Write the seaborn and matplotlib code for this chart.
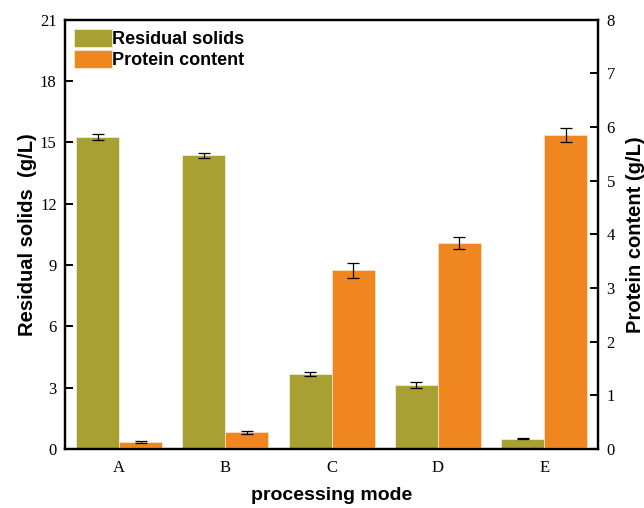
import matplotlib
matplotlib.use("Agg")
import matplotlib.pyplot as plt
import seaborn as sns
import pandas as pd
import numpy as np
from matplotlib.patches import Patch

modes = ["A", "B", "C", "D", "E"]
residual = [15.25, 14.37, 3.68, 3.13, 0.50]
residual_err = [0.15, 0.11, 0.10, 0.13, 0.02]
protein = [0.125, 0.31, 3.33, 3.84, 5.85]
protein_err = [0.02, 0.025, 0.14, 0.115, 0.125]
series = ["Residual solids", "Protein content"]
colors = {"Residual solids": "#A8A032", "Protein content": "#F0861F"}

sns.set_style("ticks")
plt.rcParams["font.family"] = ["Liberation Sans", "DejaVu Sans"]
plt.rcParams["text.color"] = "black"
plt.rcParams["axes.labelcolor"] = "black"
plt.rcParams["xtick.color"] = "black"
plt.rcParams["ytick.color"] = "black"

df_res = pd.DataFrame({"mode": modes, "value": residual, "series": series[0]})
df_pro = pd.DataFrame({"mode": modes, "value": protein, "series": series[1]})

fig = plt.figure(figsize=(6.44, 5.08), dpi=100)
ax = fig.add_axes([0.101, 0.116, 0.828, 0.845])
ax2 = ax.twinx()

sns.barplot(data=df_res, x="mode", y="value", hue="series", hue_order=series,
            palette=colors, order=modes, width=0.81, dodge=True, saturation=1,
            ax=ax, errorbar=None, edgecolor="#f3efd0", linewidth=0.6, legend=False)
sns.barplot(data=df_pro, x="mode", y="value", hue="series", hue_order=series,
            palette=colors, order=modes, width=0.81, dodge=True, saturation=1,
            ax=ax2, errorbar=None, edgecolor="#fbe0c0", linewidth=0.6, legend=False)

def add_err(a, vals, errs):
    bars = [p for p in a.patches if p.get_height() > 0]
    bars.sort(key=lambda p: p.get_x())
    xs = [p.get_x() + p.get_width() / 2 for p in bars]
    a.errorbar(xs, vals, yerr=errs, fmt="none", ecolor="black",
               elinewidth=0.9, capsize=4, capthick=0.9, zorder=5)

add_err(ax, residual, residual_err)
add_err(ax2, protein, protein_err)

ax.set_xlim(-0.51, 4.51)
ax.set_ylim(0, 21)
ax.set_yticks(np.arange(0, 22, 3))
ax2.set_ylim(0, 8)
ax2.set_yticks(np.arange(0, 9, 1))

for a in (ax, ax2):
    for s in a.spines.values():
        s.set_visible(True)
        s.set_linewidth(1.6)
        s.set_color("black")
    a.tick_params(direction="in", length=6, width=1.4, labelsize=12, pad=6)
    for lbl in a.get_yticklabels() + a.get_xticklabels():
        lbl.set_family(["Liberation Serif", "DejaVu Serif"])
ax.tick_params(axis="x", length=0, pad=8)

ax.set_xlabel("processing mode", fontsize=14, fontweight="bold", labelpad=8)
ax.set_ylabel("Residual solids  (g/L)", fontsize=14.5, fontweight="bold", labelpad=2)
ax2.set_ylabel("Protein content (g/L)", fontsize=14.5, fontweight="bold", labelpad=8)

handles = [Patch(facecolor=colors[s], edgecolor="#f3efd0", linewidth=0.6) for s in series]
ax.legend(handles, series, loc="upper left", frameon=False,
          prop={"weight": "bold", "size": 13}, handlelength=2.1, handleheight=1.15,
          handletextpad=0.0, labelspacing=0.12, borderaxespad=0.1,
          bbox_to_anchor=(0.0, 1.0))

fig.savefig("out.png", dpi=100)
